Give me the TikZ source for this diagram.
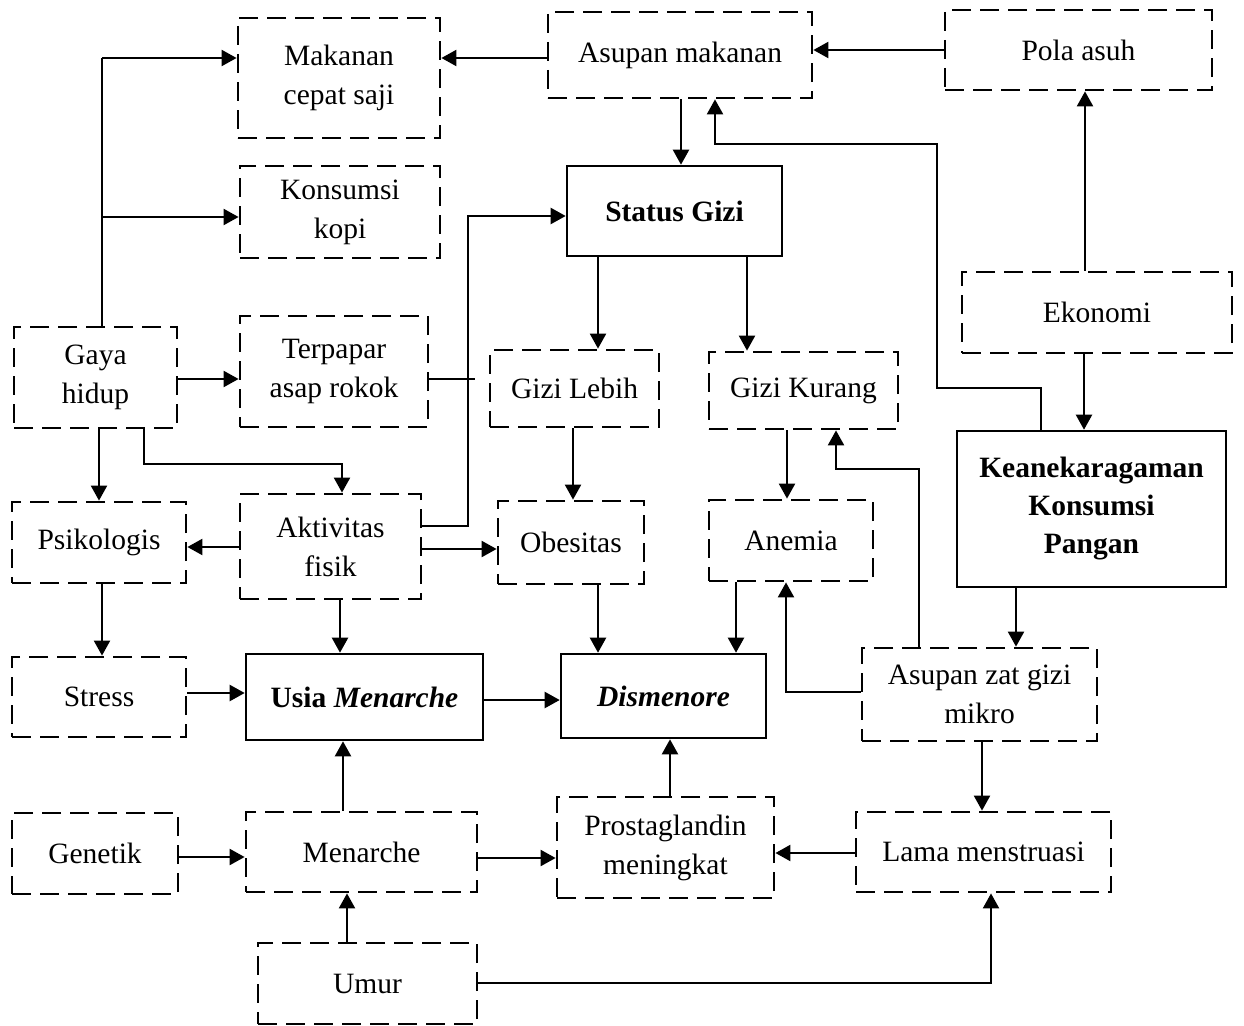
\documentclass[tikz,border=0pt]{standalone}
\usepackage{fontspec}
\setmainfont{Liberation Serif}
\usetikzlibrary{arrows.meta}
\tikzset{
  dbox/.style={draw, line width=2.8pt, dash pattern=on 19pt off 9pt, align=center, inner sep=2pt, font=\fontsize{29.5}{39}\selectfont},
  sbox/.style={draw, line width=2.6pt, align=center, inner sep=2pt, font=\fontsize{29.5}{38}\selectfont\bfseries},
  conn/.style={line width=2.2pt},
  arr/.style={line width=2.2pt, -{Triangle[length=15pt,width=16pt]}},
}
\begin{document}
\begin{tikzpicture}[x=1pt,y=-1pt]
\useasboundingbox (0,0) rectangle (1244,1025);
% nodes
\node[dbox, minimum width=202, minimum height=120] (mk) at (339,78) {Makanan\\cepat saji};
\node[dbox, minimum width=200, minimum height=92] (kk) at (340,212) {Konsumsi\\kopi};
\node[dbox, minimum width=264, minimum height=86] (am) at (680,55) {Asupan makanan};
\node[sbox, minimum width=215, minimum height=90] (sg) at (674.5,211) {Status Gizi};
\node[dbox, minimum width=267, minimum height=80] (pa) at (1078.5,50) {Pola asuh};
\node[dbox, minimum width=270, minimum height=81] (ek) at (1097,312.5) {Ekonomi};
\node[sbox, minimum width=269, minimum height=156] (kp) at (1091.5,509) {Keanekaragaman\\Konsumsi\\Pangan};
\node[dbox, minimum width=163, minimum height=101] (gh) at (95.5,377.5) {Gaya\\hidup};
\node[dbox, minimum width=188, minimum height=111] (tp) at (334,371.5) {Terpapar\\asap rokok};
\node[dbox, minimum width=174, minimum height=81] (ps) at (99,542.5) {Psikologis};
\node[dbox, minimum width=181, minimum height=105] (af) at (330.5,546.5) {Aktivitas\\fisik};
\node[dbox, minimum width=169, minimum height=77] (gl) at (574.5,388.5) {Gizi Lebih};
\node[dbox, minimum width=189, minimum height=77] (gk) at (803.5,390.5) {Gizi Kurang};
\node[dbox, minimum width=146, minimum height=83] (ob) at (571,542.5) {Obesitas};
\node[dbox, minimum width=164, minimum height=81] (an) at (791,540.5) {Anemia};
\node[dbox, minimum width=235, minimum height=93] (az) at (979.5,694.5) {Asupan zat gizi\\mikro};
\node[dbox, minimum width=174, minimum height=80] (st) at (99,697) {Stress};
\node[sbox, minimum width=237, minimum height=86] (um) at (364.5,697) {Usia \textit{Menarche}};
\node[sbox, minimum width=205, minimum height=84] (dm) at (663.5,696) {\textit{Dismenore}};
\node[dbox, minimum width=166, minimum height=81] (ge) at (95,853.5) {Genetik};
\node[dbox, minimum width=231, minimum height=80] (me) at (361.5,852) {Menarche};
\node[dbox, minimum width=217, minimum height=101] (pr) at (665.5,847.5) {Prostaglandin\\meningkat};
\node[dbox, minimum width=255, minimum height=80] (lm) at (983.5,852) {Lama menstruasi};
\node[dbox, minimum width=219, minimum height=81] (ur) at (367.5,983.5) {Umur};
% free coordinates
\coordinate (j1) at (102,58);
\coordinate (j2) at (102,217);
\coordinate (tpend) at (475,379);
% connectors
\draw[conn] (gh.north -| j1) -- (j1);
\draw[arr] (j1) -- (mk.west |- j1);
\draw[arr] (j2) -- (kk.west |- j2);
\draw[arr] (am.west |- 0,58) -- (mk.east |- 0,58);
\draw[arr] (pa.west) -- (am.east |- pa.west);
\draw[arr] (am.south -| 681,0) -- (sg.north -| 681,0);
\draw[arr] (kp.north -| 1041,0) -- (1041,388) -- (937,388) -- (937,144) -- (715,144) -- (am.south -| 715,0);
\draw[arr] (ek.north -| 1085,0) -- (pa.south -| 1085,0);
\draw[arr] (ek.south -| 1084,0) -- (kp.north -| 1084,0);
\draw[arr] (sg.south -| 598,0) -- (gl.north -| 598,0);
\draw[arr] (sg.south -| 747,0) -- (gk.north -| 747,0);
\draw[arr] (gh.east |- 0,379) -- (tp.west |- 0,379);
\draw[conn] (tp.east |- tpend) -- (tpend);
\draw[arr] (af.east |- 0,526) -- (468,526) -- (468,216) -- (sg.west |- 0,216);
\draw[arr] (af.east |- 0,549) -- (ob.west |- 0,549);
\draw[arr] (gh.south -| 144,0) -- (144,464) -- (342,464) -- (af.north -| 342,0);
\draw[arr] (gh.south -| 99,0) -- (ps.north -| 99,0);
\draw[arr] (af.west |- 0,547) -- (ps.east |- 0,547);
\draw[arr] (ps.south -| 102,0) -- (st.north -| 102,0);
\draw[arr] (af.south -| 340,0) -- (um.north -| 340,0);
\draw[arr] (st.east |- 0,693) -- (um.west |- 0,693);
\draw[arr] (um.east |- 0,700) -- (dm.west |- 0,700);
\draw[arr] (me.north -| 343,0) -- (um.south -| 343,0);
\draw[arr] (ge.east |- 0,857) -- (me.west |- 0,857);
\draw[arr] (ur.north -| 347,0) -- (me.south -| 347,0);
\draw[arr] (me.east |- 0,858) -- (pr.west |- 0,858);
\draw[arr] (ur.east |- 0,983) -- (991,983) -- (lm.south -| 991,0);
\draw[arr] (pr.north -| 670,0) -- (dm.south -| 670,0);
\draw[arr] (lm.west |- 0,853) -- (pr.east |- 0,853);
\draw[arr] (az.south -| 982,0) -- (lm.north -| 982,0);
\draw[arr] (kp.south -| 1016,0) -- (az.north -| 1016,0);
\draw[arr] (az.north -| 919,0) -- (919,469) -- (836,469) -- (gk.south -| 836,0);
\draw[arr] (az.west |- 0,692) -- (786,692) -- (an.south -| 786,0);
\draw[arr] (gl.south -| 573,0) -- (ob.north -| 573,0);
\draw[arr] (gk.south -| 787,0) -- (an.north -| 787,0);
\draw[arr] (ob.south -| 598,0) -- (dm.north -| 598,0);
\draw[arr] (an.south -| 736,0) -- (dm.north -| 736,0);
\end{tikzpicture}
\end{document}
